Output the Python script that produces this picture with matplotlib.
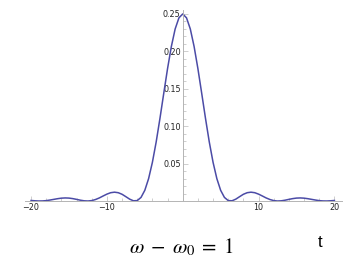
import matplotlib
matplotlib.use("Agg")
import matplotlib.pyplot as plt
import numpy as np

# values (curve is symmetric about t = 0)
t_half = [0.0, 0.5, 1.0, 1.5, 2.0, 2.5, 3.0, 3.5, 4.0, 4.5, 5.0, 5.5, 6.0, 6.5,
          7.0, 7.5, 8.0, 8.5, 9.0, 9.5, 10.0, 10.5, 11.0, 11.5, 12.0, 12.5, 13.0,
          13.5, 14.0, 14.5, 15.0, 15.5, 16.0, 16.5, 17.0, 17.5, 18.0, 18.5, 19.0,
          19.5, 20.0]
p_half = [0.2500, 0.2448, 0.2299, 0.2065, 0.1770, 0.1441, 0.1106, 0.0790, 0.0517,
          0.0299, 0.0143, 0.0048, 0.00055, 0.00028, 0.0025, 0.0058, 0.0090, 0.0111,
          0.0118, 0.0111, 0.0092, 0.0067, 0.0041, 0.0020, 0.00054, 0.00001, 0.00027,
          0.0011, 0.0022, 0.0032, 0.0039, 0.0041, 0.0038, 0.0031, 0.0022, 0.0013,
          0.0005, 0.0001, 0.00002, 0.0003, 0.0007]
xticks = [-20, -10, 10, 20]
yticks = [0.05, 0.10, 0.15, 0.20, 0.25]
ytick_labels = ["0.05", "0.10", "0.15", "0.20", "0.25"]

t = [-v for v in t_half[:0:-1]] + t_half
p = p_half[:0:-1] + p_half

fig = plt.figure(figsize=(3.51, 2.73), dpi=100)
ax = fig.add_axes([0.0712, 0.2637, 0.9031, 0.6997])
ax.plot(t, p, color="#4b4ba6", lw=1.1, clip_on=False)

ax.set_xlim(-20.8, 21.0)
ax.set_ylim(0, 0.2553)
ax.spines["top"].set_visible(False)
ax.spines["right"].set_visible(False)
ax.spines["left"].set_position(("data", 0))
ax.spines["bottom"].set_position(("data", 0))
for s in ("left", "bottom"):
    ax.spines[s].set_color("#b4b4b4")
    ax.spines[s].set_linewidth(0.7)

ax.set_xticks(xticks)
ax.set_xticks(np.arange(-20, 21, 2), minor=True)
ax.set_yticks(yticks)
ax.set_yticklabels(ytick_labels)
ax.set_yticks(np.arange(0.01, 0.255, 0.01), minor=True)
ax.tick_params(which="both", direction="in", color="#bbbbbb", width=0.5,
               labelsize=5.8, pad=1.5, labelcolor="#222222")
ax.tick_params(which="major", length=3.5)
ax.tick_params(which="minor", length=2)

fig.text(0.515, 0.095, r"$\omega\;-\;\omega_0\;=\;1$", fontsize=15,
         ha="center", va="center", math_fontfamily="stix")
fig.text(0.913, 0.11, "t", fontsize=12, ha="center", va="center",
         family="Liberation Sans")

fig.savefig("out.png", dpi=100)
